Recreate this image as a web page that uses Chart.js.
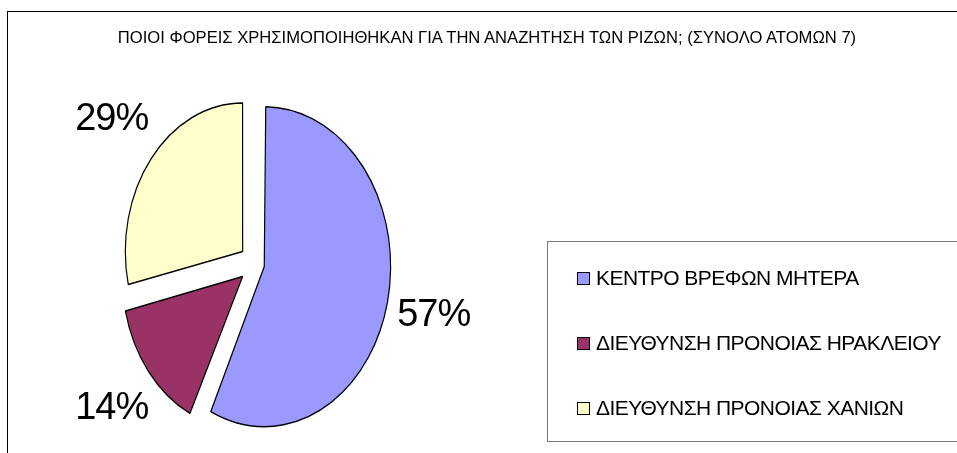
<!DOCTYPE html>
<html lang="el">
<head>
  <meta charset="UTF-8" />
  <title>Φορείς αναζήτησης ριζών</title>
  <script src="https://cdn.jsdelivr.net/npm/chart.js"></script>
  <style>
    html, body {
      margin: 0;
      padding: 0;
      width: 957px;
      height: 453px;
      overflow: hidden;
      background: #fff;
      font-family: "Liberation Sans", Arial, sans-serif;
    }
    #frame {
      position: absolute;
      left: 7px;
      top: 11px;
      width: 980px;
      height: 480px;
      border: 1px solid #000;
    }
    #title {
      position: absolute;
      left: 0;
      width: 974px;
      top: 28px;
      text-align: center;
      font-size: 16.6px;
      line-height: 20px;
      color: #000;
      white-space: nowrap;
    }
    #chart-box {
      position: absolute;
      left: 0;
      top: 0;
      width: 957px;
      height: 453px;
    }
    #legend {
      position: absolute;
      left: 547px;
      top: 241px;
      width: 430px;
      height: 199px;
      border: 1.5px solid #777;
    }
    .item {
      position: absolute;
      left: 29px;
      font-size: 21px;
      letter-spacing: -0.55px;
      line-height: 24px;
      white-space: nowrap;
    }
    .item span.sw {
      display: inline-block;
      width: 11px;
      height: 11px;
      border: 1px solid #000;
      margin-right: 6px;
      vertical-align: 0px;
    }
  </style>
</head>
<body>
  <div id="frame"></div>
  <div id="chart-box"><canvas id="pie"></canvas></div>
  <div id="title">ΠΟΙΟΙ ΦΟΡΕΙΣ ΧΡΗΣΙΜΟΠΟΙΗΘΗΚΑΝ ΓΙΑ ΤΗΝ ΑΝΑΖΗΤΗΣΗ ΤΩΝ ΡΙΖΩΝ; (ΣΥΝΟΛΟ ΑΤΟΜΩΝ 7)</div>
  <div id="legend"></div>

  <script>
    // data
    const categories = ['ΚΕΝΤΡΟ ΒΡΕΦΩΝ ΜΗΤΕΡΑ', 'ΔΙΕΥΘΥΝΣΗ ΠΡΟΝΟΙΑΣ ΗΡΑΚΛΕΙΟΥ', 'ΔΙΕΥΘΥΝΣΗ ΠΡΟΝΟΙΑΣ ΧΑΝΙΩΝ'];
    const persons = [4, 1, 2];
    const colors = ['#9999FF', '#993366', '#FFFFCC'];
    const explode = [48, 80, 80];

    const squashX = 0.79; // pie is drawn as an ellipse in the original

    // legend in a box, like the spreadsheet one
    const legend = document.getElementById('legend');
    categories.forEach((name, i) => {
      const row = document.createElement('div');
      row.className = 'item';
      row.style.top = (24 + i * 65) + 'px';
      row.innerHTML = '<span class="sw" style="background:' + colors[i] + '"></span>' + name;
      legend.appendChild(row);
    });

    const squash = {
      id: 'squash',
      beforeDatasetsDraw(chart) {
        const { ctx, chartArea } = chart;
        const cx = (chartArea.left + chartArea.right) / 2;
        ctx.save();
        ctx.translate(cx, 0);
        ctx.scale(squashX, 1);
        ctx.translate(-cx, 0);
      },
      afterDatasetsDraw(chart) {
        chart.ctx.restore();
      }
    };

    const percentLabels = {
      id: 'percentLabels',
      afterDraw(chart) {
        const { ctx } = chart;
        const total = persons.reduce((a, b) => a + b, 0);
        const meta = chart.getDatasetMeta(0);
        ctx.save();
        ctx.font = '38px "Liberation Sans", Arial, sans-serif';
        ctx.letterSpacing = '-1px';
        ctx.fillStyle = '#000';
        ctx.textAlign = 'center';
        ctx.textBaseline = 'middle';
        meta.data.forEach((arc, i) => {
          const a = (arc.startAngle + arc.endAngle) / 2;
          const d = 232;
          const x = arc.x + Math.cos(a) * d * squashX;
          const y = arc.y + Math.sin(a) * d;
          ctx.fillText(Math.round(persons[i] / total * 100) + '%', x, y);
        });
        ctx.restore();
      }
    };

    new Chart(document.getElementById('pie'), {
      type: 'pie',
      data: {
        labels: categories,
        datasets: [{
          data: persons,
          backgroundColor: colors,
          borderColor: '#000',
          borderWidth: 1.5,
          offset: explode,
          hoverOffset: 0,
          clip: false
        }]
      },
      options: {
        responsive: true,
        maintainAspectRatio: false,
        animation: false,
        radius: 148,
        layout: {
          padding: { left: 0, right: 447, top: 75, bottom: 0 }
        },
        plugins: {
          legend: { display: false },
          tooltip: { enabled: false }
        }
      },
      plugins: [squash, percentLabels]
    });
  </script>
</body>
</html>
